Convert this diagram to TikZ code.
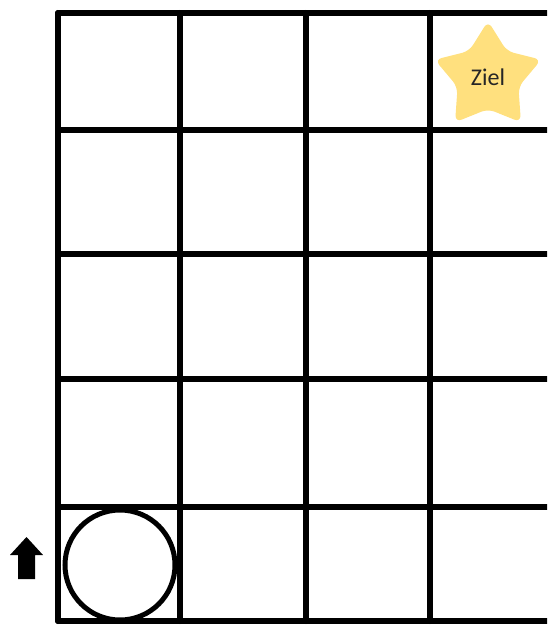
\documentclass[tikz,border=0pt]{standalone}
\usepackage{fontspec}
\setmainfont{Carlito}
\usetikzlibrary{shapes.geometric}

\tikzset{
    gridline/.style={line width=6pt, line cap=round},
    goal/.style={star, star points=5, star point ratio=1.75, minimum size=112pt,
        fill=goalyellow, rounded corners=7pt, inner sep=0pt,
        font=\fontsize{24}{30}\selectfont, text=black!85},
    robot/.style={circle, draw, line width=5pt, minimum size=110pt, inner sep=0pt},
}
\definecolor{goalyellow}{HTML}{FFE07E}

\begin{document}
\begin{tikzpicture}[x=1pt, y=-1pt]
    \useasboundingbox (0,0) rectangle (547,626);
    \clip (0,0) rectangle (547,626);

    % rows and columns
    \foreach \y in {13,130,254,379,507,621}
        \draw[gridline] (58,\y) -- (560,\y);
    \foreach \x in {58,180,306,430}
        \draw[gridline] (\x,13) -- (\x,621);

    \node[goal] (ziel) at (488,77) {Ziel};
    \node[robot] (figur) at (120,565) {};

    % direction the figure faces
    \coordinate (tip) at (26.5,537);
    \fill (tip) -- (43,555) -- (35,555) -- (35,579) -- (18,579) -- (18,555) -- (10,555) -- cycle;
\end{tikzpicture}
\end{document}
